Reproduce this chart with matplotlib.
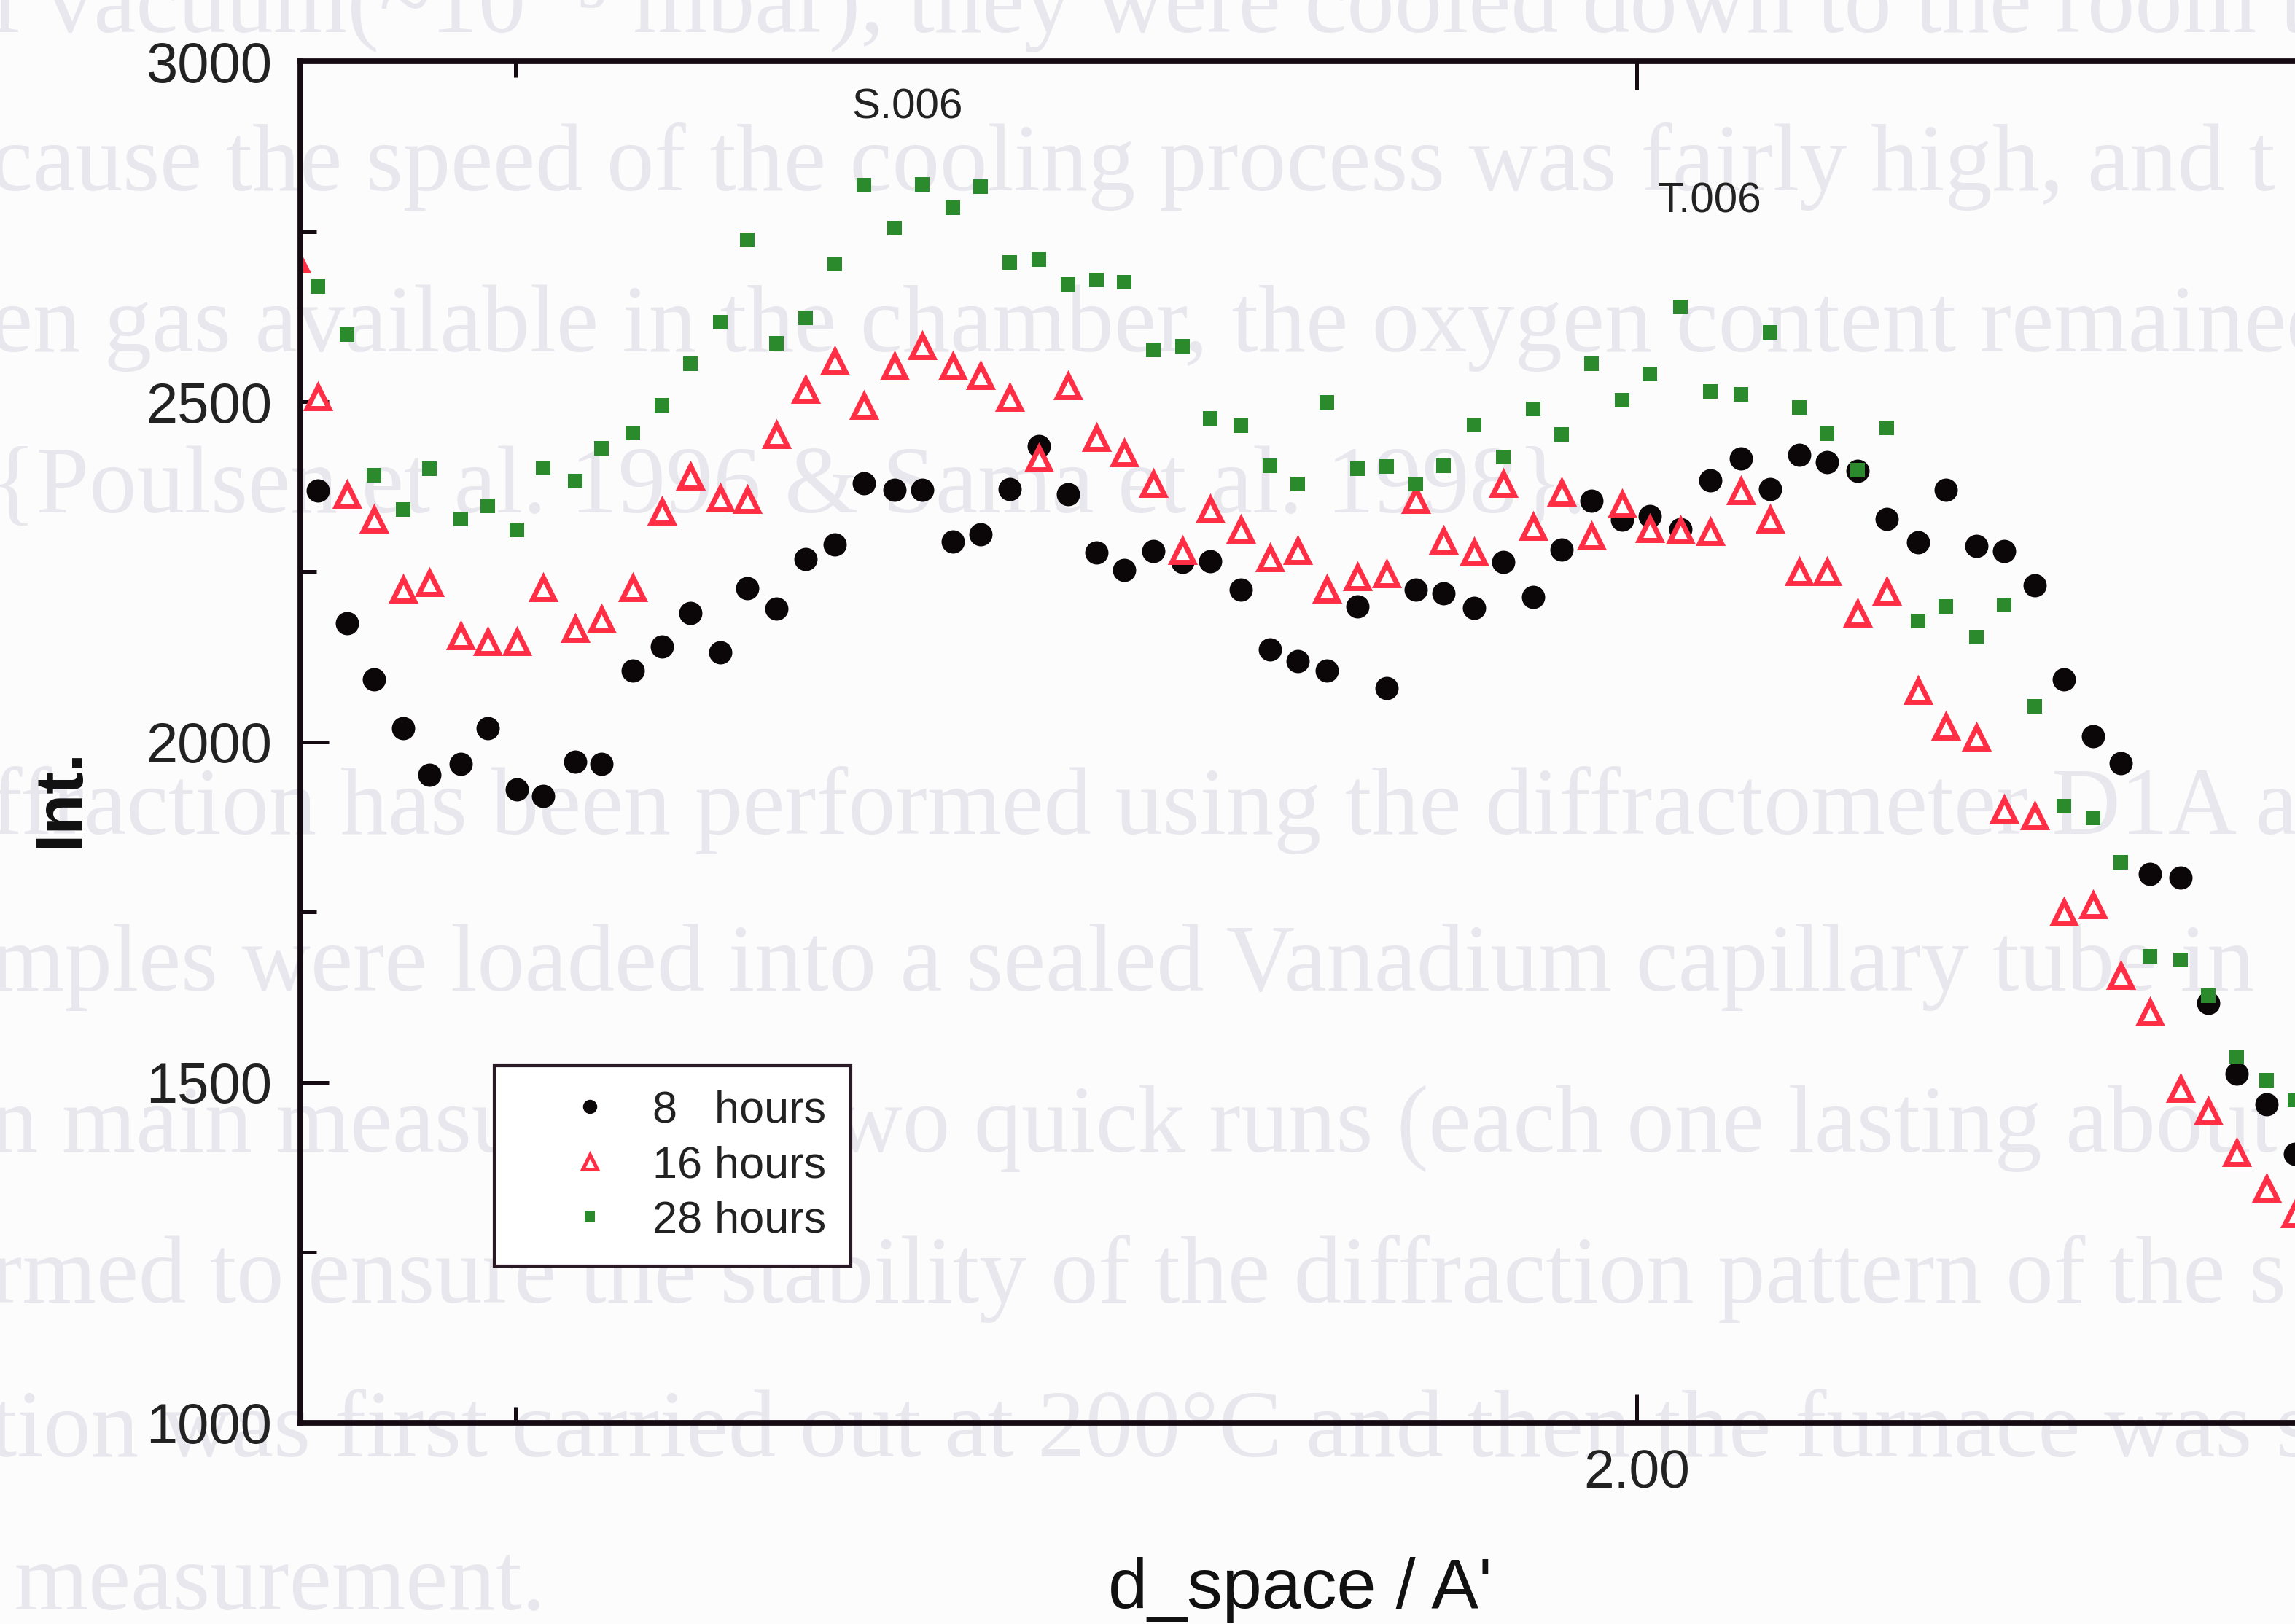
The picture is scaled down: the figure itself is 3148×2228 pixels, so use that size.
import numpy as np
import matplotlib
matplotlib.use('Agg')
import matplotlib.pyplot as plt
from matplotlib.ticker import MultipleLocator, FormatStrFormatter
from matplotlib.lines import Line2D

nan = np.nan

# d-spacing grid shared by the three runs (first point only seen for 16 h, half hidden by the axis)
d_space = [1.8804, 1.8824, 1.8850, 1.8874, 1.8900, 1.8923, 1.8951, 1.8975, 1.9001, 1.9025,
           1.9053, 1.9077, 1.9105, 1.9131, 1.9156, 1.9183, 1.9207, 1.9233, 1.9259, 1.9285,
           1.9311, 1.9338, 1.9363, 1.9390, 1.9415, 1.9441, 1.9467, 1.9493, 1.9518, 1.9543,
           1.9569, 1.9595, 1.9620, 1.9647, 1.9673, 1.9698, 1.9724, 1.9751, 1.9777, 1.9803,
           1.9828, 1.9855, 1.9881, 1.9908, 1.9933, 1.9960, 1.9987, 2.0012, 2.0039, 2.0066,
           2.0093, 2.0119, 2.0145, 2.0170, 2.0197, 2.0223, 2.0251, 2.0276, 2.0303, 2.0328,
           2.0355, 2.0381, 2.0407, 2.0432, 2.0458, 2.0485, 2.0510, 2.0535, 2.0562, 2.0587]

int_8h = [nan, 2369, 2174, 2092, 2020, 1952, 1968, 2020, 1930, 1921,
          1971, 1968, 2105, 2140, 2189, 2132, 2226, 2196, 2269, 2290,
          2380, 2370, 2370, 2294, 2305, 2372, 2435, 2364, 2278, 2253,
          2280, 2264, 2265, 2224, 2136, 2119, 2105, 2199, 2079, 2224,
          2218, 2197, 2264, 2213, 2283, 2354, 2327, 2332, 2313, 2384,
          2417, 2372, 2422, 2411, 2398, 2328, 2293, 2370, 2288, 2281,
          2230, 2092, 2008, 1969, 1806, 1801, 1616, 1512, 1467, 1395]

int_16h = [2709, 2506, 2363, 2327, 2224, 2233, 2155, 2147, 2147, 2226,
           2166, 2180, 2226, 2338, 2390, 2358, 2355, 2451, 2517, 2559,
           2494, 2551, 2581, 2551, 2538, 2505, 2417, 2522, 2447, 2424,
           2379, 2281, 2341, 2311, 2270, 2281, 2224, 2242, 2246, 2355,
           2295, 2278, 2379, 2316, 2366, 2302, 2349, 2313, 2310, 2308,
           2368, 2327, 2249, 2249, 2188, 2220, 2075, 2022, 2006, 1900,
           1891, 1749, 1760, 1656, 1603, 1490, 1457, 1396, 1343, 1306]

int_28h = [nan, 2669, 2599, 2392, 2341, 2402, 2328, 2347, 2312, 2403,
           2383, 2431, 2454, 2495, 2556, 2617, 2738, 2586, 2623, 2702,
           2818, 2755, 2819, 2785, 2816, 2705, 2709, 2672, 2679, 2676,
           2576, 2581, 2475, 2465, 2406, 2379, 2499, 2401, 2405, 2379,
           2406, 2466, 2419, 2489, 2452, 2556, 2502, 2541, 2639, 2515,
           2511, 2602, 2491, 2453, 2399, 2461, 2178, 2199, 2154, 2201,
           2052, 1906, 1888, 1823, 1685, 1680, 1627, 1537, 1503, 1474]

labels = ['8   hours', '16 hours', '28 hours']
peak_labels = ['S.006', 'T.006']

# faded page text showing through the scan
page_lines = [
    'f vacuum(~10\u207b\u2075 mbar), they were cooled down to the room te',
    'cause the speed of the cooling process was fairly high, and t',
    'en gas available in the chamber, the oxygen content remained',
    '{Poulsen et al. 1996 & Sama et al. 1998}.',
    'ffraction has been performed using the diffractometer D1A a',
    'mples were loaded into a sealed Vanadium capillary tube in',
    'n main measurement two quick runs (each one lasting about',
    'rmed to ensure the stability of the diffraction pattern of the s',
    'tion was first carried out at 200\u00b0C and then the furnace was se',
    ' measurement.',
]
page_base = [44, 261, 482, 703, 1144, 1359, 1580, 1787, 1998, 2208]

W, H = 3148, 2228
fig = plt.figure(figsize=(W / 200, H / 200), dpi=200)
fig.patch.set_facecolor('#fcfcfd')

for txt, yb in zip(page_lines, page_base):
    fig.text(-0.004, 1 - yb / H, txt, family=['Liberation Serif', 'DejaVu Serif'], fontsize=47,
             color='#e7e7ed', va='baseline', ha='left', zorder=-5)

ax = fig.add_axes([0.1308, 0.1241, 1.0708, 0.8381])
ax.patch.set_alpha(0)
ax.set_zorder(1)

ink = '#160b12'
red = '#ff2e45'
green = '#2b8a2b'

ax.plot(d_space, int_8h, ls='none', marker='o', ms=11.5, mfc='#0b0608', mec='#0b0608', mew=0)
ax.plot(d_space, int_16h, ls='none', marker='^', ms=11, mfc='white', mec=red, mew=2.5)
ax.plot(d_space, int_28h, ls='none', marker='s', ms=7.5, mfc=green, mec=green, mew=0)

ax.set_xlim(1.8808, 2.10)
ax.set_ylim(1000, 3000)
ax.xaxis.set_major_locator(MultipleLocator(0.2))
ax.xaxis.set_minor_locator(MultipleLocator(0.1))
ax.xaxis.set_major_formatter(FormatStrFormatter('%.2f'))
ax.yaxis.set_major_locator(MultipleLocator(500))
ax.yaxis.set_minor_locator(MultipleLocator(250))
ax.tick_params(which='both', direction='in', top=True, right=True, width=1.8, color=ink)
ax.tick_params(which='major', length=14)
ax.tick_params(which='minor', length=8)
ax.tick_params(axis='y', labelsize=28, pad=14, labelcolor='#222')
ax.tick_params(axis='x', labelsize=27, pad=13, labelcolor='#222')
for lab in ax.get_xticklabels() + ax.get_yticklabels():
    lab.set_family('Liberation Sans')
for sp in ax.spines.values():
    sp.set_linewidth(2.8)
    sp.set_color(ink)

fig.text(0.5664, 0.021, "d_space / A'", family='Liberation Sans', fontsize=35,
         ha='center', va='center', color='#111')
fig.text(0.0268, 0.5089, 'Int.', family='Liberation Sans', fontsize=33, fontweight='bold',
         rotation=90, ha='center', va='center', color='#111')
fig.text(0.3955, 0.9336, peak_labels[0], family='Liberation Sans', fontsize=21,
         ha='center', va='center', color='#222')
fig.text(0.7449, 0.8757, peak_labels[1], family='Liberation Sans', fontsize=21,
         ha='center', va='center', color='#222')

handles = [
    Line2D([], [], ls='none', marker='o', ms=7, mfc='#0b0608', mec='#0b0608', mew=0),
    Line2D([], [], ls='none', marker='^', ms=7, mfc='white', mec=red, mew=1.8),
    Line2D([], [], ls='none', marker='s', ms=5, mfc=green, mec=green, mew=0),
]
leg = ax.legend(handles, labels, loc='lower left', bbox_to_anchor=(0.2154, 0.2204),
                bbox_transform=fig.transFigure, borderaxespad=0, fancybox=False,
                frameon=True, edgecolor='#2a1a26', framealpha=1, facecolor='white',
                prop={'family': 'Liberation Sans', 'size': 22}, borderpad=0.55,
                handlelength=3.2, handletextpad=-0.2, labelspacing=0.3)
leg.get_frame().set_linewidth(1.5)
leg.get_frame().set_width(leg.get_frame().get_width())
for t in leg.get_texts():
    t.set_color('#222')

fig.savefig('out.png', dpi=200, facecolor=fig.get_facecolor())
